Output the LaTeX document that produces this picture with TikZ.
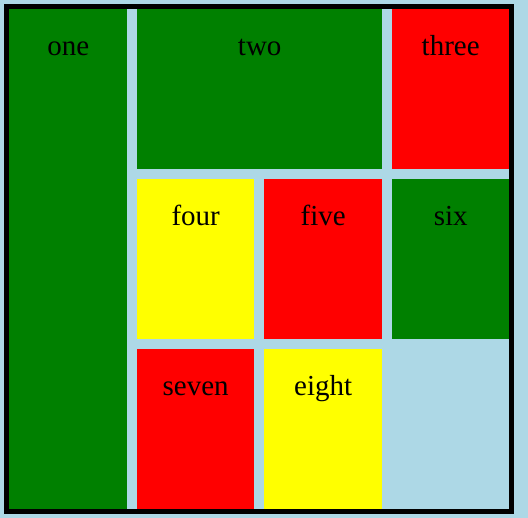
\documentclass[tikz,border=0pt]{standalone}
\usepackage{fontspec}
\setmainfont{Liberation Serif}
\definecolor{sky}{HTML}{ADD8E6}
\definecolor{grn}{HTML}{008000}
\definecolor{rd}{HTML}{FF0000}
\definecolor{yl}{HTML}{FFFF00}
\begin{document}
\begin{tikzpicture}[x=1pt,y=-1pt,every node/.style={font=\fontsize{29}{34}\selectfont},cell/.style={anchor=north west,inner sep=0pt,text height=46.5pt,text depth=113.5pt,minimum width=118pt}]
\fill[sky] (0,0) rectangle (528,518);
\useasboundingbox (0,0) rectangle (528,518);
\node[cell,fill=grn,text depth=453.5pt] (one) at (9,9) {one};
\node[cell,fill=grn,minimum width=245pt] (two) at (137,9) {two};
\node[cell,fill=rd,minimum width=117pt] (three) at (392,9) {three};
\node[cell,fill=yl,minimum width=117pt] (four) at (137,179) {four};
\node[cell,fill=rd] (five) at (264,179) {five};
\node[cell,fill=grn,minimum width=117pt] (six) at (392,179) {six};
\node[cell,fill=rd,minimum width=117pt] (seven) at (137,349) {seven};
\node[cell,fill=yl] (eight) at (264,349) {eight};
\draw[line width=5pt] (6.5,6.5) rectangle (511.5,511.5);
\end{tikzpicture}
\end{document}
